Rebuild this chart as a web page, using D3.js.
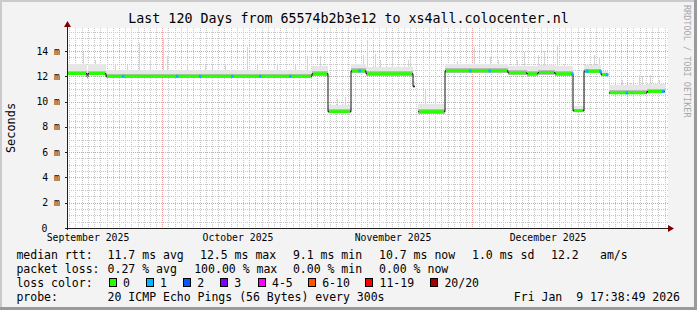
<!DOCTYPE html>
<html><head><meta charset="utf-8">
<script src="https://cdn.jsdelivr.net/npm/d3@7"></script>
<style>body{margin:0;background:#f3f3f3} svg{display:block} text{font-family:"DejaVu Sans Mono",monospace}</style>
</head><body><svg id="c" width="697" height="310"></svg>
<script>
// ---------------- data ----------------
const title = "Last 120 Days from 65574b2b3e12 to xs4all.colocenter.nl";
const yTicks = [0, 2, 4, 6, 8, 10, 12, 14];
const yTickLabels = ["0", "2 m", "4 m", "6 m", "8 m", "10 m", "12 m", "14 m"];
const monthLabels = ["September 2025", "October 2025", "November 2025", "December 2025"];
const monthLabelDays = [4.2, 34.2, 65.2, 96.2];
const majorGridDays = [19.06, 50.06, 81.06, 112.06];
// median rtt (ms) step segments: start day, value, loss count
const segDay    = [0, 4.0, 4.2, 7.8, 49.0, 52.2, 56.8, 59.8, 69.2, 69.6, 70.2, 75.6, 88.2, 92.0, 94.2, 97.6, 101.2, 103.4, 106.8, 108.2, 108.4, 116.0, 119.6];
const segMedian = [12.22, 11.95, 12.22, 12.0, 12.2, 9.2, 12.43, 12.2, 11.2, null, 9.2, 12.43, 12.27, 12.2, 12.3, 12.2, 9.28, 12.4, 12.13, null, 10.69, 10.8, null];
const segLoss   = [0, 0, 0, 0, 0, 0, 0, 0, 2, null, 0, 0, 0, 0, 0, 0, 0, 0, 0, null, 0, 0, null];
// smoke (ping spread) per segment, ms
const segSmokeLo   = [12.08, 11.88, 12.08, 11.88, 12.06, 9.08, 12.3, 12.06, 11.1, null, 9.05, 12.3, 12.12, 12.05, 12.12, 12.05, 9.15, 12.27, 12.0, null, 10.57, 10.67, null];
const segSmokeDark = [12.42, 12.15, 12.42, 12.2, 12.42, 9.38, 12.62, 12.38, 11.35, null, 9.42, 12.62, 12.47, 12.42, 12.5, 12.42, 9.45, 12.58, 12.3, null, 10.88, 10.98, null];
const segSmokeHi   = [12.95, 12.5, 12.95, 12.5, 12.85, 9.7, 12.95, 12.75, 11.6, null, 9.8, 12.95, 12.85, 12.85, 12.9, 12.85, 9.65, 12.9, 12.45, null, 11.3, 11.4, null];
// single high pings (spikes)
const spikeDay = [3.1, 5.5, 9.5, 12.0, 14.3, 16.6, 19.2, 20.0, 24.0, 27.5, 29.0, 31.5, 35.9, 38.0, 42.0, 45.5, 48.0, 50.5, 53.9, 55.6, 59.3, 59.9, 61.6, 62.6, 65.1, 68.1, 68.6, 71.6, 73.5, 78.0, 81.3, 84.6, 86.3, 89.9, 91.3, 94.3, 95.3, 97.9, 99.3, 105.3, 106.3, 110.9, 112.5, 114.3, 114.9, 116.6, 118.3];
const spikeVal = [13.9, 13.3, 13.0, 12.9, 14.6, 13.3, 15.0, 13.6, 13.0, 12.9, 12.9, 13.0, 14.3, 12.9, 13.0, 12.9, 13.6, 13.6, 10.2, 10.4, 13.7, 14.9, 13.8, 13.3, 14.0, 13.3, 13.5, 10.95, 10.3, 13.2, 14.3, 13.5, 13.3, 13.3, 13.9, 13.7, 14.0, 14.5, 13.0, 13.7, 13.5, 11.7, 11.5, 12.1, 12.0, 12.1, 11.7];
// samples with packet loss
const lossDotDay   = [11.2, 22.0, 26.6, 33.0, 38.6, 44.6, 58.5, 80.6, 84.5, 101.0, 104.0, 106.6, 108.0, 111.9, 119.2];
const lossDotCount = [1, 1, 1, 1, 1, 1, 1, 1, 1, 1, 1, 1, 1, 1, 1];
const lossLegendLabels = ["0", "1", "2", "3", "4-5", "6-10", "11-19", "20/20"];
const lossLegendColors = ["#26ff00", "#00b8ff", "#0059ff", "#7e00ff", "#ff00ff", "#ff5500", "#ff0000", "#a10000"];
const statsRtt  = ["median rtt:", "11.7 ms avg", "12.5 ms max", "9.1 ms min", "10.7 ms now", "1.0 ms sd", "12.2", "am/s"];
const statsLoss = ["packet loss:", "0.27 % avg", "100.00 % max", "0.00 % min", "0.00 % now"];
const probeText = ["probe:", "20 ICMP Echo Pings (56 Bytes) every 300s"];
const dateText = "Fri Jan  9 17:38:49 2026";

// ---------------- layout ----------------
const W = 697, H = 310;
const L = 67, R = 667, T = 28, B = 228;
const svg = d3.select("#c");
const x = d3.scaleLinear().domain([0, 120]).range([L, R]);
const y = d3.scaleLinear().domain([0, 15.82]).range([B, T]);

// frame
svg.append("rect").attr("width", W).attr("height", H).attr("fill", "#f3f3f3");
svg.append("rect").attr("x", 0).attr("y", 0).attr("width", W).attr("height", 2).attr("fill", "#cbcbcb");
svg.append("rect").attr("x", 0).attr("y", 0).attr("width", 2).attr("height", H).attr("fill", "#cbcbcb");
svg.append("rect").attr("x", W - 3).attr("y", 0).attr("width", 3).attr("height", H).attr("fill", "#9a9a9a");
svg.append("rect").attr("x", 0).attr("y", H - 3).attr("width", W).attr("height", 3).attr("fill", "#9a9a9a");

// canvas
svg.append("rect").attr("x", L).attr("y", T).attr("width", R - L + 1).attr("height", B - T).attr("fill", "#ffffff");

// grid
const g = svg.append("g").attr("shape-rendering", "crispEdges");
const minorY = d3.range(0, 15.8, 0.5).filter(v => v % 2 !== 0);
g.selectAll(".hmin").data(minorY).join("line")
  .attr("x1", L).attr("x2", R + 1).attr("y1", d => Math.round(y(d)) + 0.5).attr("y2", d => Math.round(y(d)) + 0.5)
  .attr("stroke", "#c8c8c8").attr("stroke-dasharray", "1,1");
const minorStep = 31 / 25;
const minorX = d3.range(majorGridDays[0] - 15 * minorStep, 120, minorStep).filter(d => d > 0.3 && d < 120);
g.selectAll(".vmin").data(minorX).join("line")
  .attr("x1", d => Math.round(x(d)) + 0.5).attr("x2", d => Math.round(x(d)) + 0.5).attr("y1", T).attr("y2", B)
  .attr("stroke", "#c8c8c8").attr("stroke-dasharray", "1,1");
g.selectAll(".hmaj").data(yTicks.slice(1)).join("line")
  .attr("x1", L).attr("x2", R + 1).attr("y1", d => Math.round(y(d)) + 0.5).attr("y2", d => Math.round(y(d)) + 0.5)
  .attr("stroke", "#ec9a9a").attr("stroke-dasharray", "1,1");
g.selectAll(".vmaj").data(majorGridDays).join("line")
  .attr("x1", d => Math.round(x(d)) + 0.5).attr("x2", d => Math.round(x(d)) + 0.5).attr("y1", T).attr("y2", B)
  .attr("stroke", "#ec9a9a").attr("stroke-dasharray", "1,1");

// segments helper
const segs = d3.range(segDay.length - 1).filter(i => segMedian[i] !== null).map(i => ({
  i, d0: segDay[i], d1: segDay[i + 1], med: segMedian[i], loss: segLoss[i],
  lo: segSmokeLo[i], dark: segSmokeDark[i], hi: segSmokeHi[i]
}));
function segAt(day) { return segs.find(s => day >= s.d0 && day < s.d1) || segs[segs.length - 1]; }

// smoke
const sm = svg.append("g").attr("shape-rendering", "crispEdges");
sm.selectAll(".sl").data(segs).join("rect")
  .attr("x", d => x(d.d0)).attr("width", d => x(d.d1) - x(d.d0))
  .attr("y", d => y(d.hi)).attr("height", d => y(d.lo) - y(d.hi)).attr("fill", "#e6e6e6");
sm.selectAll(".spk").data(spikeDay).join("rect")
  .attr("x", d => Math.round(x(d))).attr("width", 1)
  .attr("y", (d, k) => y(spikeVal[k])).attr("height", (d, k) => Math.max(0, y(segAt(d).hi) - y(spikeVal[k])))
  .attr("fill", "#d4d4d4");
sm.selectAll(".sd").data(segs).join("rect")
  .attr("x", d => x(d.d0)).attr("width", d => x(d.d1) - x(d.d0))
  .attr("y", d => y(d.dark)).attr("height", d => y(d.lo) - y(d.dark)).attr("fill", "#bcbcbc");

// median black step line
const pts = [];
segDay.slice(0, -1).forEach((d, i) => {
  if (segMedian[i] === null) { pts.push(null); return; }
  pts.push([segDay[i], segMedian[i]]);
  pts.push([segDay[i + 1], segMedian[i]]);
});
const line = d3.line().defined(p => p !== null).x(p => x(p[0])).y(p => y(p[1]));
svg.append("path").attr("d", line(pts)).attr("fill", "none").attr("stroke", "#111").attr("stroke-width", 1);

// loss-coloured median
svg.append("g").selectAll("line").data(segs).join("line")
  .attr("x1", d => x(d.d0) + (d.i > 0 ? 1 : 0)).attr("x2", d => x(d.d1) - 1)
  .attr("y1", d => y(d.med)).attr("y2", d => y(d.med))
  .attr("stroke", d => lossLegendColors[d.loss]).attr("stroke-width", 3);
svg.append("g").selectAll("line").data(lossDotDay).join("line")
  .attr("x1", d => x(d) - 1).attr("x2", d => x(d) + 1.5)
  .attr("y1", d => y(segAt(d).med)).attr("y2", d => y(segAt(d).med))
  .attr("stroke", (d, k) => lossLegendColors[lossDotCount[k]]).attr("stroke-width", 3);

// axes
const ax = svg.append("g").attr("shape-rendering", "crispEdges");
ax.append("line").attr("x1", L).attr("x2", R + 3).attr("y1", B + 0.5).attr("y2", B + 0.5).attr("stroke", "#202020");
ax.append("line").attr("x1", L + 0.5).attr("x2", L + 0.5).attr("y1", B + 2).attr("y2", T - 2).attr("stroke", "#202020");
svg.append("path").attr("d", `M${R + 1},${B - 3} L${R + 7},${B + 0.5} L${R + 1},${B + 4} Z`).attr("fill", "#800000");
svg.append("path").attr("d", `M${L - 3},${T - 1} L${L + 0.5},${T - 7} L${L + 4},${T - 1} Z`).attr("fill", "#800000");
ax.selectAll(".yt").data(yTicks).join("line")
  .attr("x1", L - 2).attr("x2", L).attr("y1", d => Math.round(y(d)) + 0.5).attr("y2", d => Math.round(y(d)) + 0.5).attr("stroke", "#202020");

// axis labels
svg.selectAll(".yl").data(yTicks).join("text")
  .attr("x", d => d === 0 ? 47.5 : 60).attr("y", d => y(d) + 3.5).attr("text-anchor", "end").attr("font-size", 9.8)
  .text((d, k) => yTickLabels[k]);
svg.selectAll(".xl").data(monthLabelDays).join("text")
  .attr("x", d => x(d)).attr("y", 240.5).attr("text-anchor", "middle").attr("font-size", 9.8)
  .text((d, k) => monthLabels[k]);
svg.append("text").attr("transform", "translate(15,128) rotate(-90)").attr("text-anchor", "middle")
  .attr("font-size", 11.9).text("Seconds");
svg.append("text").attr("x", 348.5).attr("y", 22.5).attr("text-anchor", "middle").attr("font-size", 13.3).text(title);
svg.append("text").attr("transform", "translate(683.5,5) rotate(90)").attr("font-size", 8.5)
  .attr("fill", "#a8a8a8").text("RRDTOOL / TOBI OETIKER");

// legend
const fs = 11.5;
const rttX = [16.4, 107.6, 200, 292.9, 379, 472, 551, 600];
statsRtt.forEach((t, k) => svg.append("text").attr("x", rttX[k]).attr("y", 259).attr("font-size", fs).text(t));
const lossX = [16.4, 107.6, 194.2, 292.9, 379];
statsLoss.forEach((t, k) => svg.append("text").attr("x", lossX[k]).attr("y", 272.5).attr("font-size", fs).text(t));
svg.append("text").attr("x", 16.4).attr("y", 286.5).attr("font-size", fs).text("loss color:");
const boxX = [108.9, 145.8, 183.1, 220, 257.8, 308, 365.3, 430.2];
lossLegendLabels.forEach((t, k) => {
  svg.append("rect").attr("x", Math.round(boxX[k]) + 0.5).attr("y", 278.5).attr("width", 7).attr("height", 8)
    .attr("fill", lossLegendColors[k]).attr("stroke", "#000");
  svg.append("text").attr("x", boxX[k] + 14.2).attr("y", 286.5).attr("font-size", fs).text(t);
});
svg.append("text").attr("x", 16.4).attr("y", 300.5).attr("font-size", fs).text(probeText[0]);
svg.append("text").attr("x", 107.6).attr("y", 300.5).attr("font-size", fs).text(probeText[1]);
svg.append("text").attr("x", 680).attr("y", 300.5).attr("text-anchor", "end").attr("font-size", fs).attr("xml:space", "preserve").text(dateText);
</script></body></html>
